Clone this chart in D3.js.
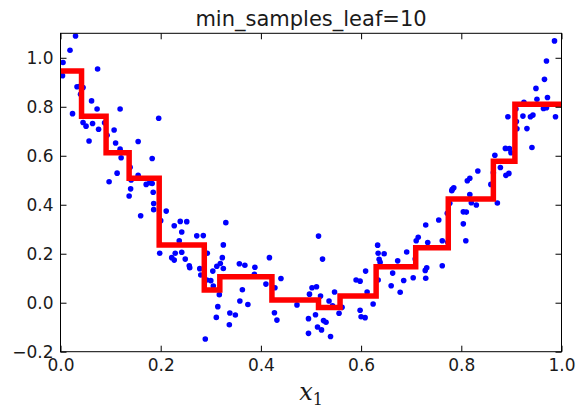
<!DOCTYPE html>
<html>
<head>
<meta charset="utf-8">
<script src="https://cdn.jsdelivr.net/npm/d3@7"></script>
<style>
  html, body { margin: 0; padding: 0; background: #fff; }
  svg { display: block; }
</style>
</head>
<body>
<svg id="chart" width="579" height="409"></svg>
<script>
// ---- data ----
const titleText = "min_samples_leaf=10";
const xTicks = [0.0, 0.2, 0.4, 0.6, 0.8, 1.0];
const yTicks = [-0.2, 0.0, 0.2, 0.4, 0.6, 0.8, 1.0];

// tree split thresholds and leaf predictions
const splitX = [0.042, 0.091, 0.137, 0.197, 0.287, 0.318, 0.422, 0.515, 0.558, 0.630, 0.709, 0.774, 0.864, 0.907];
const leafY = [0.946, 0.761, 0.612, 0.508, 0.236, 0.052, 0.106, 0.011, -0.020, 0.027, 0.147, 0.224, 0.423, 0.578, 0.810];

// training samples
const sampleX = [0.030,0.019,0.005,0.004,0.074,0.033,0.039,0.045,0.040,0.062,0.024,0.073,0.119,0.196,0.045,0.051,0.064,0.088,0.076,0.107,
0.093,0.057,0.110,0.155,0.119,0.121,0.183,0.113,0.139,0.155,0.097,0.141,0.171,0.178,0.183,0.140,0.185,0.137,0.186,0.186,
0.160,0.211,0.200,0.227,0.239,0.252,0.242,0.237,0.272,0.285,0.330,0.198,0.229,0.222,0.227,0.242,0.249,0.257,0.258,0.278,
0.293,0.280,0.325,0.323,0.319,0.325,0.312,0.304,0.292,0.300,0.305,0.317,0.314,0.311,0.289,0.338,0.349,0.337,0.357,0.368,
0.363,0.358,0.374,0.388,0.387,0.410,0.417,0.428,0.427,0.432,0.440,0.472,0.497,0.502,0.511,0.495,0.495,0.509,0.515,0.523,
0.519,0.513,0.521,0.525,0.530,0.539,0.536,0.547,0.543,0.556,0.562,0.590,0.598,0.609,0.612,0.598,0.600,0.608,0.624,0.633,
0.634,0.646,0.636,0.638,0.634,0.663,0.660,0.673,0.678,0.685,0.691,0.704,0.708,0.710,0.714,0.729,0.733,0.728,0.731,0.729,
0.755,0.762,0.762,0.772,0.773,0.777,0.781,0.804,0.810,0.804,0.809,0.820,0.817,0.830,0.872,0.782,0.785,0.812,0.817,0.833,
0.859,0.864,0.867,0.878,0.889,0.895,0.888,0.896,0.899,0.893,0.909,0.910,0.911,0.923,0.925,0.931,0.938,0.943,0.941,0.949,
0.951,0.964,0.970,0.972,0.966,0.970,0.986,0.988];
const sampleY = [1.089,1.031,0.981,0.927,0.954,0.882,0.884,0.879,0.851,0.824,0.772,0.791,0.791,0.753,0.736,0.721,0.732,0.735,0.708,0.705,
0.684,0.660,0.652,0.658,0.627,0.592,0.589,0.529,0.553,0.520,0.494,0.501,0.483,0.490,0.487,0.465,0.451,0.436,0.405,0.380,
0.355,0.374,0.335,0.314,0.332,0.331,0.289,0.253,0.273,0.274,0.327,0.202,0.202,0.184,0.174,0.206,0.178,0.151,0.143,0.139,
0.202,0.113,0.236,0.184,0.160,0.140,0.149,0.129,0.093,0.090,0.068,0.033,-0.016,-0.060,-0.148,-0.042,-0.050,-0.090,0.159,0.153,
0.053,0.007,-0.007,0.145,0.116,0.076,0.184,0.061,-0.041,-0.071,0.099,-0.009,0.035,0.061,0.065,-0.065,-0.125,-0.049,0.272,0.178,
0.027,-0.099,-0.111,-0.073,-0.080,-0.138,0.007,0.044,-0.013,-0.043,-0.019,0.093,0.088,0.129,0.044,-0.031,-0.057,-0.061,-0.005,0.235,
0.202,0.200,0.177,0.165,0.093,0.121,0.069,0.171,0.043,0.091,0.207,0.102,0.178,0.253,0.267,0.317,0.246,0.132,0.143,0.100,
0.338,0.253,0.151,0.365,0.247,0.406,0.457,0.371,0.370,0.322,0.253,0.408,0.442,0.399,0.407,0.463,0.469,0.498,0.508,0.538,
0.483,0.531,0.602,0.552,0.520,0.528,0.630,0.629,0.612,0.759,0.791,0.740,0.710,0.762,0.818,0.711,0.759,0.766,0.634,0.875,
0.831,0.793,0.796,0.838,0.912,0.987,1.069,0.759];

// ---- layout ----
const plotL = 60.5, plotR = 561.5, plotT = 33.3, plotB = 351.7;

const svg = d3.select("#chart");
const x = d3.scaleLinear().domain([0, 1]).range([plotL, plotR]);
const y = d3.scaleLinear().domain([-0.2, 1.1]).range([plotB, plotT]);

svg.append("defs").append("clipPath").attr("id", "clip")
  .append("rect").attr("x", plotL).attr("y", plotT)
  .attr("width", plotR - plotL).attr("height", plotB - plotT);

const plot = svg.append("g").attr("clip-path", "url(#clip)");

// points
plot.selectAll("circle.pt")
  .data(sampleX.map((d, i) => [d, sampleY[i]]))
  .enter().append("circle")
  .attr("class", "pt")
  .attr("cx", d => x(d[0]))
  .attr("cy", d => y(d[1]))
  .attr("r", 2.8)
  .attr("fill", "#0000ff");

// step prediction line
const stepPts = [[0, leafY[0]]];
splitX.forEach((s, i) => stepPts.push([s, leafY[i + 1]]));
stepPts.push([1, leafY[leafY.length - 1]]);

plot.append("path")
  .datum(stepPts)
  .attr("fill", "none")
  .attr("stroke", "#ff0000")
  .attr("stroke-width", 5.5)
  .attr("stroke-linejoin", "miter")
  .attr("d", d3.line().x(d => x(d[0])).y(d => y(d[1])).curve(d3.curveStepAfter));

// axes
const fmt = d3.format(".1f");
const tickLen = 6;
function styleAxis(g) {
  g.select(".domain").remove();
  g.selectAll(".tick line").attr("stroke", "#000").attr("stroke-width", 1);
  g.selectAll(".tick text")
    .attr("fill", "#1a1a1a")
    .style("font-family", "'DejaVu Sans', sans-serif")
    .style("font-size", "17px");
}

svg.append("g").attr("transform", `translate(0,${plotB})`)
  .call(d3.axisBottom(x).tickValues(xTicks).tickFormat(fmt).tickSizeInner(-tickLen).tickSizeOuter(0).tickPadding(7))
  .call(styleAxis);
svg.append("g").attr("transform", `translate(0,${plotT})`)
  .call(d3.axisTop(x).tickValues(xTicks).tickFormat("").tickSizeInner(-tickLen).tickSizeOuter(0))
  .call(styleAxis);
svg.append("g").attr("transform", `translate(${plotL},0)`)
  .call(d3.axisLeft(y).tickValues(yTicks).tickFormat(fmt).tickSizeInner(-tickLen).tickSizeOuter(0).tickPadding(7))
  .call(styleAxis);
svg.append("g").attr("transform", `translate(${plotR},0)`)
  .call(d3.axisRight(y).tickValues(yTicks).tickFormat("").tickSizeInner(-tickLen).tickSizeOuter(0))
  .call(styleAxis);

// frame
svg.append("rect")
  .attr("x", plotL).attr("y", plotT)
  .attr("width", plotR - plotL).attr("height", plotB - plotT)
  .attr("fill", "none").attr("stroke", "#000").attr("stroke-width", 1);

// title
svg.append("text")
  .attr("x", (plotL + plotR) / 2).attr("y", 26)
  .attr("text-anchor", "middle")
  .style("font-family", "'DejaVu Sans', sans-serif")
  .style("font-size", "21px")
  .attr("fill", "#1a1a1a")
  .text(titleText);

// x label
const xl = svg.append("text")
  .attr("x", (plotL + plotR) / 2).attr("y", 400)
  .attr("text-anchor", "middle")
  .style("font-family", "'DejaVu Serif', serif")
  .attr("fill", "#1a1a1a");
xl.append("tspan").style("font-style", "italic").style("font-size", "24px").text("x");
xl.append("tspan").attr("dy", 5).style("font-size", "16px").text("1");
</script>
</body>
</html>
